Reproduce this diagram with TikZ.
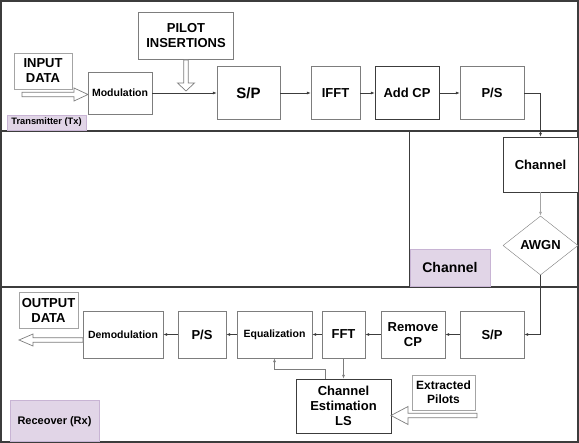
\documentclass[tikz,border=0pt]{standalone}
\usepackage{fontspec}
\setmainfont{Liberation Sans}
\usetikzlibrary{arrows.meta,positioning,calc,shapes.geometric}
\definecolor{framegray}{RGB}{60,60,60}
\definecolor{boxgray}{RGB}{125,125,125}
\definecolor{lanefill}{RGB}{225,213,231}
\definecolor{laneedge}{RGB}{200,180,212}

\tikzset{
  blk/.style 2 args={draw=boxgray,fill=white,font=\bfseries\fontsize{13}{15}\selectfont,
    align=center,inner sep=0pt,minimum width=#1,minimum height=#2},
  lane/.style 2 args={draw=laneedge,fill=lanefill,font=\bfseries,align=center,
    inner sep=0pt,minimum width=#1,minimum height=#2},
  flow/.style={draw=framegray,line width=0.7pt,-{Latex[length=4pt,width=3pt]}},
  hollowedge/.style={draw=boxgray,line width=0.7pt,fill=white,line join=miter}
}
% hollow block arrow: from, to, head length, head half width
\newcommand{\hollowarrow}[4]{%
  \path ($(#2)!#3!(#1)$) coordinate (hc);
  \draw[hollowedge] ($(#1)!2.3pt!90:(#2)$) -- ($(hc)!2.3pt!90:(#2)$)
    -- ($(hc)!#4!90:(#2)$) -- (#2) -- ($(hc)!#4!-90:(#2)$)
    -- ($(hc)!2.3pt!-90:(#2)$) -- ($(#1)!2.3pt!-90:(#2)$) -- cycle;
}

\begin{document}
\begin{tikzpicture}[x=1pt,y=-1pt]
  \useasboundingbox (0,0) rectangle (579,443);
  % frames
  \draw[framegray,line width=1.4pt] (1,1) rectangle (578,442);
  \draw[framegray,line width=1.4pt] (1,131) -- (578,131);
  \draw[framegray,line width=1.4pt] (1,287) -- (578,287);
  \draw[framegray,line width=1pt] (409,131) -- (409,287);

  % transmitter
  \node[blk={58pt}{36pt},draw=boxgray!70] (indata) at (43,71) {INPUT\\DATA};
  \node[blk={64pt}{42pt},font=\bfseries\fontsize{10.5}{12}\selectfont] (mod) at (120,93) {Modulation};
  \node[blk={95pt}{47pt}] (pilot) at (186,36) {PILOT\\INSERTIONS};
  \node[blk={63pt}{53pt},font=\bfseries\fontsize{15}{17}\selectfont] (sptx) at (248.5,93) {S/P};
  \node[blk={49pt}{53pt}] (ifft) at (335.5,93) {IFFT};
  \node[blk={64pt}{53pt},draw=framegray] (addcp) at (407,93) {Add CP};
  \node[blk={64pt}{53pt}] (pstx) at (492,93) {P/S};
  \node[lane={79pt}{15pt},font=\bfseries\fontsize{9.3}{11}\selectfont] (txlab) at (46.5,122.5) {Transmitter (Tx)};
  \coordinate (instart) at (22,94.5);
  \coordinate (inend) at (88,94.5);
  \coordinate (pilotout) at (186,60);
  \coordinate (pilotin) at (186,91);

  % channel
  \node[blk={75pt}{55pt},draw=framegray] (chan) at (540.5,164.5) {Channel};
  \node[blk={75pt}{59pt},shape=diamond] (awgn) at (540.5,245.5) {AWGN};
  \node[lane={80pt}{37pt},font=\bfseries\fontsize{14}{16}\selectfont] (chlab) at (450,267.5) {Channel};

  % receiver
  \node[blk={64pt}{47pt}] (sprx) at (492,334.5) {S/P};
  \node[blk={64pt}{47pt}] (rmcp) at (413,334.5) {Remove\\CP};
  \node[blk={43pt}{47pt}] (fft) at (343.5,334.5) {FFT};
  \node[blk={75pt}{47pt},font=\bfseries\fontsize{10.5}{12}\selectfont] (eq) at (274.5,334.5) {Equalization};
  \node[blk={48pt}{47pt}] (psrx) at (202,334.5) {P/S};
  \node[blk={80pt}{47pt},font=\bfseries\fontsize{10.5}{12}\selectfont] (demod) at (123,334.5) {Demodulation};
  \node[blk={59pt}{36pt},draw=boxgray!70] (outdata) at (48.5,310) {OUTPUT\\DATA};
  \node[blk={95pt}{54pt},draw=framegray] (ce) at (343.5,406) {Channel\\Estimation\\LS};
  \node[blk={63pt}{35pt},draw=boxgray!70,font=\bfseries\fontsize{12}{14}\selectfont] (xp) at (443.5,392.5) {Extracted\\Pilots};
  \node[lane={89pt}{41pt},font=\bfseries\fontsize{11}{13}\selectfont,text depth=-6pt] (rxlab) at (54.5,420.5) {Receover (Rx)};
  \coordinate (outstart) at (83,340);
  \coordinate (outend) at (19,340);
  \coordinate (xpstart) at (477,415.5);
  \coordinate (xpend) at (391,415.5);

  % connectors
  \draw[flow] (mod) -- (sptx);
  \draw[flow] (sptx) -- (ifft);
  \draw[flow] (ifft) -- (addcp);
  \draw[flow] (addcp) -- (pstx);
  \draw[flow] (pstx.east) -| (chan.north);
  \draw[flow,draw=boxgray!70] (chan) -- (awgn);
  \draw[flow] (awgn.south) |- (sprx.east);
  \draw[flow] (sprx) -- (rmcp);
  \draw[flow] (rmcp) -- (fft);
  \draw[flow] (fft) -- (eq);
  \draw[flow] (eq) -- (psrx);
  \draw[flow] (psrx) -- (demod);
  \draw[flow,draw=boxgray] (fft) -- (ce);
  \draw[flow,draw=boxgray] ($(ce.north west)+(30,0)$) -- ++(0,-9) -| (eq.south);
  \hollowarrow{instart}{inend}{14pt}{6.5pt}
  \hollowarrow{pilotout}{pilotin}{8pt}{8.5pt}
  \hollowarrow{outstart}{outend}{14pt}{6pt}
  \hollowarrow{xpstart}{xpend}{17pt}{9pt}
\end{tikzpicture}
\end{document}
